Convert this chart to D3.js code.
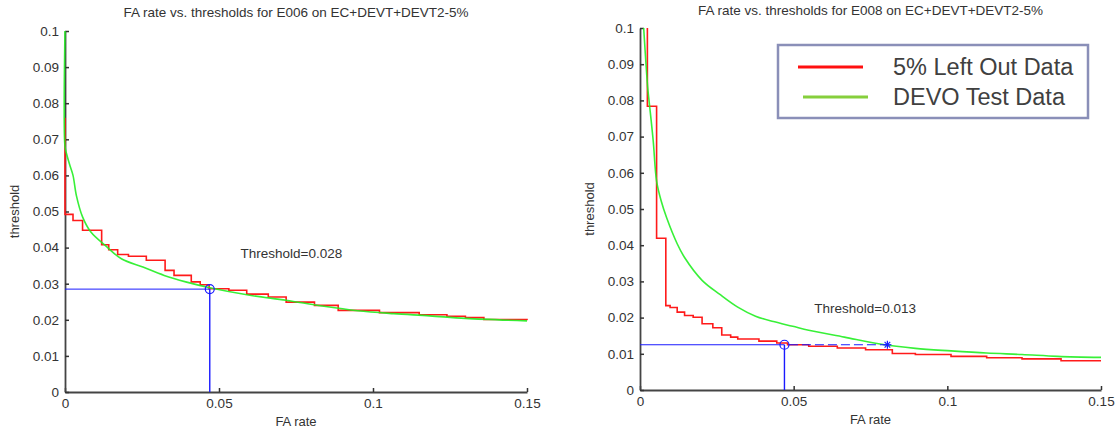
<!DOCTYPE html>
<html><head><meta charset="utf-8">
<script src="https://cdn.jsdelivr.net/npm/d3@7"></script>
<style>
body{margin:0;background:#fff}
svg{display:block}
text{font-family:"Liberation Sans",Arial,Helvetica,sans-serif}
</style>
</head><body>
<svg id="chart" width="1117" height="431"></svg>
<script>
// ---------- data ----------
const xTicks = [0, 0.05, 0.1, 0.15];
const xTickLabels = ["0", "0.05", "0.1", "0.15"];
const yTicks = [0, 0.01, 0.02, 0.03, 0.04, 0.05, 0.06, 0.07, 0.08, 0.09, 0.1];
const yTickLabels = ["0", "0.01", "0.02", "0.03", "0.04", "0.05", "0.06", "0.07", "0.08", "0.09", "0.1"];

const titles = ["FA rate vs. thresholds for E006 on EC+DEVT+DEVT2-5%",
                "FA rate vs. thresholds for E008 on EC+DEVT+DEVT2-5%"];
const xLabel = "FA rate";
const yLabel = "threshold";
const annotations = ["Threshold=0.028", "Threshold=0.013"];
const annotationX = [0.057, 0.0567];
const annotationY = [0.0386, 0.0227];
const legendLabels = ["5% Left Out Data", "DEVO Test Data"];

// E006: 5% left out data (step curve)
const leftRedX = [0, 0, 0.0026, 0.0057, 0.0119, 0.0142, 0.0171, 0.0206, 0.0264, 0.0325, 0.0354, 0.041, 0.0439, 0.0468, 0.0532, 0.059, 0.066, 0.0718, 0.081, 0.0887, 0.1021, 0.115, 0.124, 0.13, 0.136, 0.15];
const leftRedY = [0.076, 0.0492, 0.0475, 0.0448, 0.0408, 0.0394, 0.0381, 0.0376, 0.0365, 0.0337, 0.0323, 0.0305, 0.0297, 0.0286, 0.0282, 0.0271, 0.0263, 0.0249, 0.024, 0.0226, 0.022, 0.0214, 0.021, 0.0206, 0.0201, 0.0199];
// E006: DEVO test data
const leftGreenX = [0, 0, 0.0005, 0.0015, 0.0026, 0.0037, 0.0057, 0.0084, 0.0136, 0.0183, 0.0253, 0.0322, 0.0392, 0.0474, 0.060, 0.0718, 0.0835, 0.095, 0.1067, 0.1184, 0.13, 0.15];
const leftGreenY = [0.1, 0.068, 0.066, 0.063, 0.060, 0.0544, 0.0485, 0.0443, 0.0402, 0.0369, 0.0346, 0.0323, 0.0305, 0.0288, 0.0268, 0.0254, 0.0238, 0.0225, 0.0217, 0.0211, 0.0204, 0.0197];

// E008: 5% left out data (step curve)
const rightRedX = [0.0024, 0.0024, 0.0054, 0.0084, 0.0098, 0.0121, 0.0145, 0.0173, 0.0202, 0.0237, 0.0266, 0.0295, 0.0318, 0.0387, 0.0445, 0.048, 0.0549, 0.0642, 0.0734, 0.0821, 0.0896, 0.1012, 0.1128, 0.1243, 0.137, 0.15];
const rightRedY = [0.1, 0.0784, 0.0419, 0.0233, 0.0228, 0.0215, 0.0206, 0.0201, 0.0183, 0.0172, 0.0152, 0.0146, 0.0141, 0.0135, 0.013, 0.0125, 0.0121, 0.0116, 0.0111, 0.0101, 0.0098, 0.0093, 0.0089, 0.0086, 0.0081, 0.0081];
// E008: DEVO test data
const rightGreenX = [0.0012, 0.0025, 0.003, 0.0043, 0.0054, 0.0069, 0.0087, 0.0121, 0.0145, 0.0202, 0.026, 0.0318, 0.0376, 0.0434, 0.0497, 0.0549, 0.0665, 0.0781, 0.0896, 0.1012, 0.1128, 0.1243, 0.1359, 0.15];
const rightGreenY = [0.1, 0.0836, 0.0795, 0.0688, 0.0577, 0.0522, 0.0475, 0.0404, 0.0366, 0.0303, 0.0264, 0.0229, 0.0204, 0.0189, 0.0176, 0.0165, 0.0146, 0.0127, 0.0115, 0.0108, 0.0102, 0.0098, 0.0093, 0.009];

// chosen operating points
const circleX = [0.047, 0.047];
const circleY = [0.0285, 0.0125];
const starX = [0.0805];
const starY = [0.0125];

// ---------- drawing ----------
const svg = d3.select("#chart");
const panels = [
  {x0: 65, x1: 527, y0: 392, y1: 31, titleY: 17,
   red: leftRedX.map((d,i)=>[d,leftRedY[i]]), green: leftGreenX.map((d,i)=>[d,leftGreenY[i]])},
  {x0: 640, x1: 1101, y0: 390, y1: 28, titleY: 15,
   red: rightRedX.map((d,i)=>[d,rightRedY[i]]), green: rightGreenX.map((d,i)=>[d,rightGreenY[i]])}
];

panels.forEach((p, pi) => {
  const x = d3.scaleLinear().domain([0, 0.15]).range([p.x0, p.x1]);
  const y = d3.scaleLinear().domain([0, 0.1]).range([p.y0, p.y1]);
  const g = svg.append("g");

  // title
  g.append("text").attr("x", (p.x0 + p.x1) / 2).attr("y", p.titleY)
    .attr("text-anchor", "middle").attr("font-size", 13.5).attr("fill", "#333")
    .text(titles[pi]);

  // axes
  const ax = g.append("g").attr("transform", `translate(0,${p.y0})`)
    .call(d3.axisBottom(x).tickValues(xTicks).tickFormat((d,i)=>xTickLabels[i])
      .tickSizeInner(-4).tickSizeOuter(0).tickPadding(6));
  const ay = g.append("g").attr("transform", `translate(${p.x0},0)`)
    .call(d3.axisLeft(y).tickValues(yTicks).tickFormat((d,i)=>yTickLabels[i])
      .tickSizeInner(-4).tickSizeOuter(0).tickPadding(6));
  [ax, ay].forEach(a => {
    a.select(".domain").attr("stroke", "#444").attr("stroke-width", 1.8);
    a.selectAll(".tick line").attr("stroke", "#333").attr("stroke-width", 1.5);
    a.selectAll(".tick text").attr("font-size", 13.5).attr("fill", "#333")
      .attr("font-family", '"Liberation Sans",Arial,sans-serif');
  });

  // axis labels
  g.append("text").attr("x", (p.x0 + p.x1) / 2).attr("y", p.y0 + 34)
    .attr("text-anchor", "middle").attr("font-size", 13).attr("fill", "#333").text(xLabel);
  g.append("text").attr("transform", `translate(${p.x0 - 46},${(p.y0 + p.y1) / 2}) rotate(-90)`)
    .attr("text-anchor", "middle").attr("font-size", 13).attr("fill", "#333").text(yLabel);

  // curves
  const stepLine = d3.line().x(d => x(d[0])).y(d => y(d[1])).curve(d3.curveStepAfter);
  const smoothLine = d3.line().x(d => x(d[0])).y(d => y(d[1])).curve(d3.curveCatmullRom.alpha(0.5));
  g.append("path").attr("d", stepLine(p.red)).attr("fill", "none")
    .attr("stroke", "#ff1a1a").attr("stroke-width", 1.6);
  g.append("path").attr("d", smoothLine(p.green)).attr("fill", "none")
    .attr("stroke", "#22ee22").attr("stroke-width", 1.6).attr("stroke-opacity", 0.9);

  // operating point lines
  const cx = circleX[pi], cy = circleY[pi];
  g.append("line").attr("x1", x(0)).attr("x2", x(cx)).attr("y1", y(cy)).attr("y2", y(cy))
    .attr("stroke", "#1a1aff").attr("stroke-width", 1);
  g.append("line").attr("x1", x(cx)).attr("x2", x(cx)).attr("y1", y(cy)).attr("y2", y(0))
    .attr("stroke", "#1a1aff").attr("stroke-width", 1.4);
  g.append("circle").attr("cx", x(cx)).attr("cy", y(cy)).attr("r", 4.5)
    .attr("fill", "none").attr("stroke", "#1a1aff").attr("stroke-width", 1.2);

  if (pi === 1) {
    const sx = x(starX[0]), sy = y(starY[0]);
    g.append("line").attr("x1", x(cx) + 4.5).attr("x2", sx).attr("y1", sy).attr("y2", sy)
      .attr("stroke", "#1a1aff").attr("stroke-width", 1).attr("stroke-dasharray", "9,4");
    const r = 4;
    [[0, r], [r, 0], [r * 0.7, r * 0.7], [r * 0.7, -r * 0.7]].forEach(([dx, dy]) => {
      g.append("line").attr("x1", sx - dx).attr("x2", sx + dx).attr("y1", sy - dy).attr("y2", sy + dy)
        .attr("stroke", "#1a1aff").attr("stroke-width", 1.2);
    });
  }

  // annotation
  g.append("text").attr("x", x(annotationX[pi])).attr("y", y(annotationY[pi]) + 5)
    .attr("font-size", 13.5).attr("fill", "#333").text(annotations[pi]);
});

// legend (right panel)
const lg = svg.append("g");
lg.append("rect").attr("x", 778).attr("y", 45).attr("width", 310).attr("height", 73)
  .attr("fill", "#fff").attr("stroke", "#8a8fb8").attr("stroke-width", 2.5);
const legendColors = ["#ff1010", "#86cf3c"];
const legendLineX = [[798, 863], [803, 868]];
const legendRowY = [67, 97];
legendLabels.forEach((lab, i) => {
  lg.append("line").attr("x1", legendLineX[i][0]).attr("x2", legendLineX[i][1])
    .attr("y1", legendRowY[i]).attr("y2", legendRowY[i])
    .attr("stroke", legendColors[i]).attr("stroke-width", 3);
  lg.append("text").attr("x", 893).attr("y", legendRowY[i] + 8)
    .attr("font-size", 23.5).attr("fill", "#404040").text(lab);
});
</script>
</body></html>
